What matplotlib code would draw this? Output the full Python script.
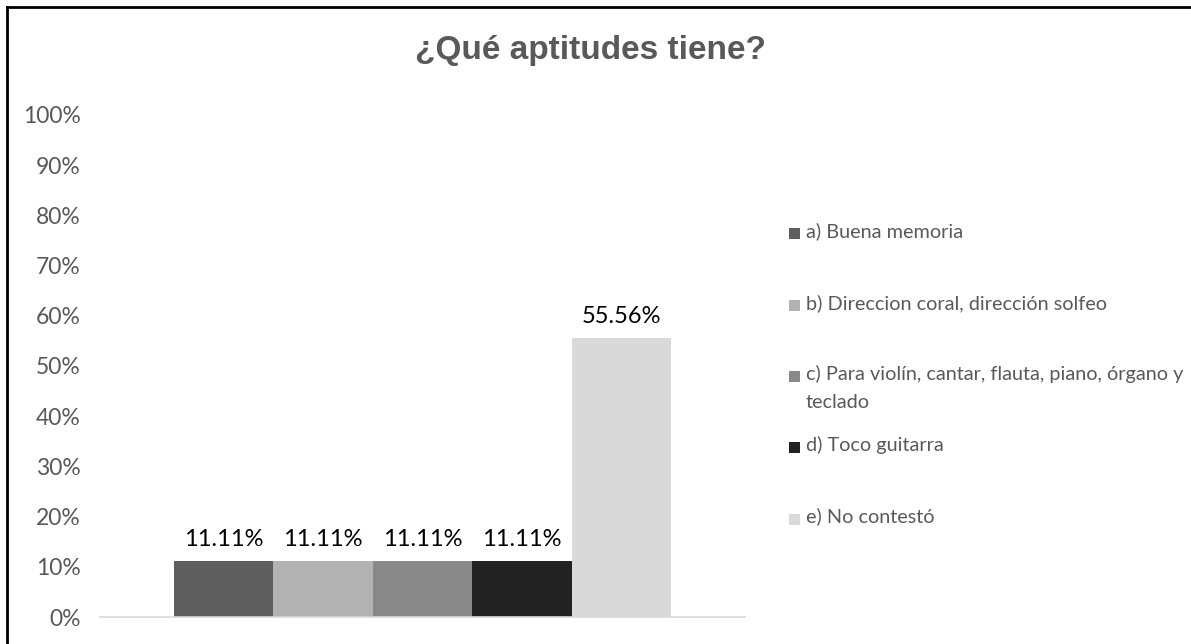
import matplotlib
matplotlib.use("Agg")
import matplotlib.pyplot as plt
from matplotlib.patches import Rectangle
from matplotlib.lines import Line2D

# data
labels = [
    "a) Buena memoria",
    "b) Direccion coral, dirección solfeo",
    "c) Para violín, cantar, flauta, piano, órgano y\nteclado",
    "d) Toco guitarra",
    "e) No contestó",
]
values = [11.11, 11.11, 11.11, 11.11, 55.56]
colors = ["#5f5f5f", "#b2b2b2", "#898989", "#222222", "#d9d9d9"]
yticks = [0, 10, 20, 30, 40, 50, 60, 70, 80, 90, 100]

text_gray = "#595959"
body_font = ["Lato", "DejaVu Sans"]

fig = plt.figure(figsize=(11.91, 6.44), dpi=100)
ax = fig.add_axes([100 / 1191, 27 / 644, 645 / 1191, 502 / 644])

n = len(values)
width = 0.772 / n
for i, (v, c) in enumerate(zip(values, colors)):
    x = (i - (n - 1) / 2) * width
    ax.bar(x, v, width=width, color=c, edgecolor="none")
    ax.text(x, v + 2.2, f"{v:.2f}%", ha="center", va="bottom",
            fontsize=17, family=body_font, color="black")

ax.set_xlim(-0.5, 0.5)
ax.set_ylim(0, 100)
ax.set_yticks(yticks)
ax.set_yticklabels([f"{t}%" for t in yticks], fontsize=16.5, family=body_font, color=text_gray)
ax.tick_params(axis="y", length=0, pad=14)
ax.set_xticks([])
for s in ["top", "right", "left"]:
    ax.spines[s].set_visible(False)
ax.spines["bottom"].set_color("#d9d9d9")
ax.spines["bottom"].set_linewidth(1.2)

# title
fig.text(590 / 1191, 1 - 51 / 644, "¿Qué aptitudes tiene?", ha="center", va="center",
         fontsize=24, fontweight="bold", color=text_gray,
         family=["Liberation Sans Narrow", "Liberation Sans", "DejaVu Sans"])

# legend drawn by hand
step = 71.3
for i, (lab, c) in enumerate(zip(labels, colors)):
    yc = 1 - (234 + i * step) / 644
    fig.patches.append(Rectangle((789 / 1191, yc - 5.5 / 644), 11 / 1191, 11 / 644,
                                 transform=fig.transFigure, facecolor=c, edgecolor="none"))
    fig.text(806 / 1191, yc + 11.5 / 644, lab, ha="left", va="top", fontsize=14.3,
             family=body_font, color=text_gray, linespacing=1.75)

# frame on left and top
fig.add_artist(Line2D([7 / 1191, 7 / 1191], [0, 1 - 7 / 644], transform=fig.transFigure,
                      color="black", linewidth=2))
fig.add_artist(Line2D([7 / 1191, 1], [1 - 7 / 644, 1 - 7 / 644], transform=fig.transFigure,
                      color="black", linewidth=2))

fig.savefig("out.png", dpi=100)
